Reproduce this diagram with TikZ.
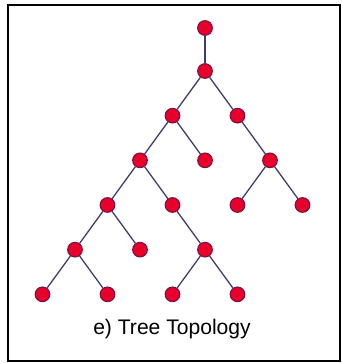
\documentclass[tikz,border=0pt]{standalone}
\usepackage{fontspec}
\setmainfont{Liberation Sans}
\usetikzlibrary{positioning}
\definecolor{dotred}{HTML}{E6002A}
\definecolor{dotrim}{HTML}{7A0F45}
\definecolor{wire}{HTML}{3C3C6E}
\begin{document}
\begin{tikzpicture}[
    x=0.03cm,y=-0.03cm,
    on grid,
    node distance=1.34cm and 0.975cm,
    dot/.style={circle,fill=dotred,draw=dotrim,line width=0.9pt,
                minimum size=0.44cm,inner sep=0pt},
    ln/.style={draw=wire,line width=1.1pt}]
    \useasboundingbox (0,0) rectangle (342,363);
    \draw[line width=1.7pt] (8,5) rectangle (340,361);
    % spine
    \node[dot] at (205,28)            (top)  {};
    \node[dot,below=1.29cm of top]    (hub)  {};
    % branches
    \node[dot,below left=of hub]      (a)    {};
    \node[dot,below right=of hub]     (b)    {};
    \node[dot,below left=of a]        (c)    {};
    \node[dot,below right=of a]       (d)    {};
    \node[dot,below right=of b]       (e)    {};
    \node[dot,below left=of e]        (e1)   {};
    \node[dot,below right=of e]       (e2)   {};
    \node[dot,below left=of c]        (h)    {};
    \node[dot,below right=of c]       (i)    {};
    \node[dot,below left=of h]        (j)    {};
    \node[dot,below right=of h]       (k)    {};
    \node[dot,below right=of i]       (m)    {};
    \node[dot,below left=of j]        (j1)   {};
    \node[dot,below right=of j]       (j2)   {};
    \node[dot,below left=of m]        (m1)   {};
    \node[dot,below right=of m]       (m2)   {};
    \foreach \u/\v in {top/hub,hub/a,hub/b,a/c,a/d,b/e,e/e1,e/e2,c/h,c/i,
                       h/j,h/k,i/m,j/j1,j/j2,m/m1,m/m2}
      \draw[ln] (\u) -- (\v);
    \node[anchor=base,font=\fontsize{18}{21}\selectfont] at (172,334) (cap)
      {e) Tree Topology};
  \end{tikzpicture}
\end{document}
